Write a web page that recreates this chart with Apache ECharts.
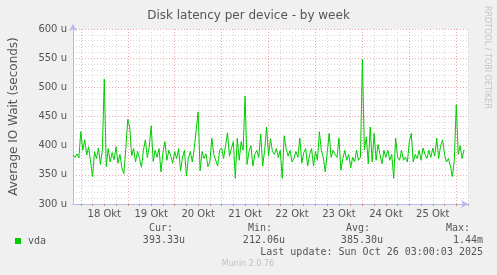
<!DOCTYPE html>
<html><head><meta charset="utf-8">
<script src="https://cdn.jsdelivr.net/npm/echarts@6/dist/echarts.min.js"></script>
<style>html,body{margin:0;padding:0;background:#f0f0f0}#c{width:497px;height:275px}</style>
</head><body><div id="c"></div>
<script>
// hours relative to 18 Okt 00:00, one category per hour
const hours = [];
for (let h = -4; h <= 198; h++) hours.push(String(h));
const dayLabels = ['18 Okt','19 Okt','20 Okt','21 Okt','22 Okt','23 Okt','24 Okt','25 Okt'];
const yTicks = [300,350,400,450,500,550,600];
// vda IO wait, microseconds, hourly from h=-4
const vda = [
 384,380,386,379,
 424,392,410,384,398,372,347,390,378,396,368,392,
 514,364,395,372,388,376,398,370,385,362,352,395,
 445,432,383,395,372,390,378,363,392,410,380,398,
 434,373,392,380,395,355,388,407,375,392,382,370,
 390,378,395,357,380,392,348,378,390,372,395,427,
 458,357,390,378,386,364,372,413,385,382,365,392,
 396,378,400,422,382,395,407,344,413,375,407,392,
 485,368,390,400,365,385,392,380,420,365,392,432,
 382,412,390,385,395,380,392,344,417,395,382,392,
 372,378,390,380,413,370,388,395,365,385,395,365,
 390,375,424,392,380,355,388,421,380,392,385,380,
 413,358,378,392,375,385,362,380,372,392,375,380,
 548,393,415,369,432,372,421,375,402,385,369,392,
 380,392,375,385,344,413,380,375,392,375,380,372,
 407,421,372,385,378,392,375,396,385,378,392,380,
 396,382,413,378,400,410,385,372,378,365,347,375,
 470,385,400,378,393,
 null,null
];
const legendHead = ['Cur:','Min:','Avg:','Max:'];
const legendVals = ['393.33u','212.06u','385.30u','1.44m'];
const lastUpdate = 'Last update: Sun Oct 26 03:00:03 2025';

const chart = echarts.init(document.getElementById('c'), null, {renderer:'canvas'});
const RED = '#e8a8a8', GRAY = '#d8d8d8', TXT = '#555555';
const mono = '"DejaVu Sans Mono", monospace';
const headX = [161, 260, 358, 458];
const valRight = [185, 285, 383, 483];
const graphics = [];
legendHead.forEach((t,i)=>graphics.push({type:'text', x:headX[i], y:228, style:{text:t, font:'10px '+mono, fill:TXT, align:'center', verticalAlign:'middle'}}));
legendVals.forEach((t,i)=>graphics.push({type:'text', x:valRight[i], y:240, style:{text:t, font:'10px '+mono, fill:TXT, align:'right', verticalAlign:'middle'}}));
graphics.push({type:'text', x:483, y:252, style:{text:lastUpdate, font:'10px '+mono, fill:TXT, align:'right', verticalAlign:'middle'}});
graphics.push({type:'text', x:248, y:264, style:{text:'Munin 2.0.76', font:'8px "DejaVu Sans"', fill:'#c0c0c0', align:'center', verticalAlign:'middle'}});
graphics.push({type:'text', x:487, y:6, rotation:-Math.PI/2, style:{text:'RRDTOOL / TOBI OETIKER', font:'8px "DejaVu Sans"', fill:'#c4c4c4', align:'left', verticalAlign:'middle'}});

chart.setOption({
  animation:false,
  backgroundColor:'#f0f0f0',
  title:{text:'Disk latency per device - by week', left:'center', top:5,
    textStyle:{fontFamily:'DejaVu Sans', fontSize:12, fontWeight:'normal', color:TXT}},
  legend:{data:['vda'], left:10, top:231, itemWidth:6, itemHeight:6, icon:'rect', itemGap:4,
    textStyle:{fontFamily:'DejaVu Sans Mono', fontSize:10, color:TXT, padding:[0,0,0,2]}},
  grid:{left:66, right:29, top:29, bottom:71, show:true, backgroundColor:'#ffffff', borderWidth:0},
  xAxis:{type:'category', data:hours, boundaryGap:false,
    axisLine:{show:true, lineStyle:{color:'#b8b8f0', width:1}, symbol:['none','arrow'], symbolSize:[6,7], symbolOffset:[0,0]},
    axisTick:{show:true, length:2, interval:(i,v)=>Number(v)%6===0, lineStyle:{color:'#d09090'}},
    axisLabel:{interval:(i,v)=>Number(v)%24===12, formatter:(v)=>dayLabels[(Number(v)-12)/24]||'',
      fontFamily:'DejaVu Sans', fontSize:10, color:TXT, margin:5},
    splitLine:{show:true, interval:(i,v)=>Number(v)%6===0,
      lineStyle:{color:[RED,GRAY,GRAY,GRAY], type:[1,2], width:1}}},
  yAxis:{type:'value', min:yTicks[0], max:yTicks[yTicks.length-1], interval:10,
    name:'Average IO Wait (seconds)', nameLocation:'middle', nameGap:53, nameRotate:90,
    nameTextStyle:{fontFamily:'DejaVu Sans', fontSize:12, color:TXT},
    axisLine:{show:true, lineStyle:{color:'#b8b8f0', width:1}, symbol:['none','arrow'], symbolSize:[6,7], symbolOffset:[0,5]},
    axisTick:{show:false},
    axisLabel:{formatter:(v)=>yTicks.includes(v)? v+' u' : '', fontFamily:'DejaVu Sans', fontSize:10, color:TXT, margin:6},
    splitLine:{show:true, lineStyle:{color:[RED,GRAY,GRAY,GRAY,GRAY], type:[1,2], width:1}}},
  series:[{name:'vda', type:'line', data:vda, showSymbol:false, connectNulls:false,
    lineStyle:{color:'#00cc00', width:1}, itemStyle:{color:'#00cc00'}}],
  graphic:graphics
});
</script></body></html>
